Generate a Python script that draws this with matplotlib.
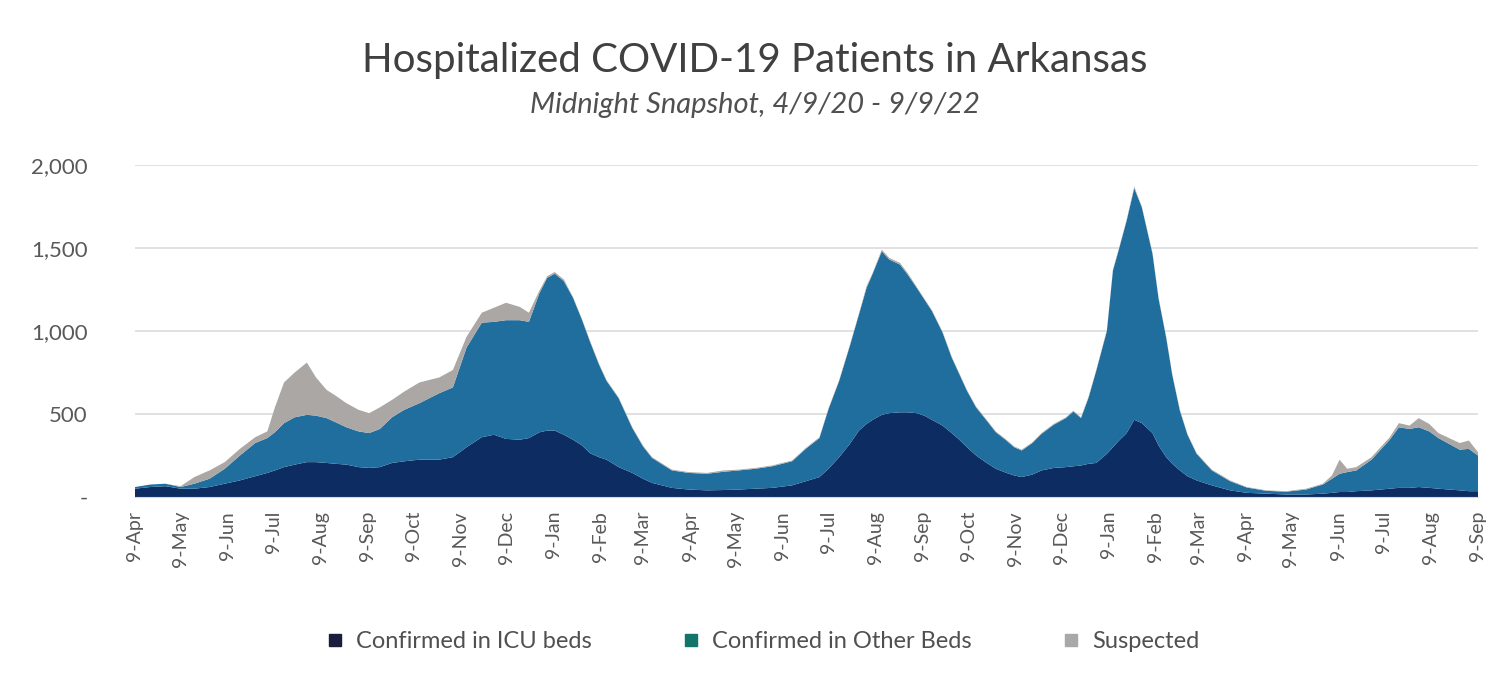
import matplotlib
matplotlib.use("Agg")
import matplotlib.pyplot as plt
from matplotlib.lines import Line2D
from matplotlib.ticker import FixedLocator, FuncFormatter
import pandas as pd

plt.rcParams['font.family'] = ['Lato', 'DejaVu Sans']

# ---------------- data ----------------
dates = [
    "2020-04-09", "2020-04-19", "2020-04-29", "2020-05-09", "2020-05-18", "2020-05-28",
    "2020-06-07", "2020-06-17", "2020-06-27", "2020-07-05", "2020-07-10", "2020-07-16",
    "2020-07-23", "2020-07-31", "2020-08-06", "2020-08-13", "2020-08-19", "2020-08-26",
    "2020-09-03", "2020-09-10", "2020-09-17", "2020-09-25", "2020-10-03", "2020-10-13",
    "2020-10-26", "2020-11-04", "2020-11-13", "2020-11-23", "2020-12-01", "2020-12-09",
    "2020-12-18", "2020-12-24", "2020-12-31", "2021-01-05", "2021-01-10", "2021-01-16",
    "2021-01-22", "2021-01-28", "2021-02-02", "2021-02-08", "2021-02-13", "2021-02-21",
    "2021-03-02", "2021-03-09", "2021-03-15", "2021-03-28", "2021-04-08", "2021-04-20",
    "2021-05-01", "2021-05-11", "2021-05-22", "2021-06-02", "2021-06-15", "2021-06-24",
    "2021-07-03", "2021-07-09", "2021-07-16", "2021-07-23", "2021-07-29", "2021-08-03",
    "2021-08-07", "2021-08-13", "2021-08-18", "2021-08-25", "2021-08-30", "2021-09-05",
    "2021-09-10", "2021-09-15", "2021-09-22", "2021-09-28", "2021-10-03", "2021-10-08",
    "2021-10-14", "2021-10-21", "2021-10-27", "2021-11-03", "2021-11-08", "2021-11-13",
    "2021-11-20", "2021-11-26", "2021-12-04", "2021-12-12", "2021-12-17", "2021-12-22",
    "2021-12-27", "2022-01-01", "2022-01-08", "2022-01-12", "2022-01-16", "2022-01-21",
    "2022-01-26", "2022-01-31", "2022-02-07", "2022-02-11", "2022-02-16", "2022-02-20",
    "2022-02-25", "2022-03-02", "2022-03-08", "2022-03-18", "2022-03-30", "2022-04-10",
    "2022-04-23", "2022-05-06", "2022-05-19", "2022-05-30", "2022-06-05", "2022-06-10",
    "2022-06-15", "2022-06-21", "2022-07-01", "2022-07-13", "2022-07-19", "2022-07-26",
    "2022-08-01", "2022-08-08", "2022-08-14", "2022-08-21", "2022-08-28", "2022-09-03",
    "2022-09-09",
]

icu = [
    50, 60, 65, 50, 50, 60,
    80, 100, 125, 145, 160, 180,
    195, 210, 210, 205, 200, 195,
    180, 175, 180, 205, 215, 225,
    225, 240, 300, 360, 375, 350,
    345, 355, 390, 400, 400, 375,
    345, 310, 265, 240, 225, 180,
    145, 110, 85, 55, 45, 40,
    42, 45, 50, 55, 70, 95,
    120, 170, 240, 320, 400, 440,
    465, 495, 505, 510, 510, 505,
    490, 465, 430, 385, 345, 300,
    250, 205, 170, 145, 130, 120,
    135, 160, 175, 180, 185, 190,
    200, 205, 260, 300, 340, 385,
    465, 445, 385, 310, 240, 200,
    160, 125, 100, 70, 40, 25,
    20, 15, 15, 20, 25, 30,
    30, 35, 40, 50, 55, 55,
    60, 55, 50, 45, 40, 35,
    35,
]

other = [
    10, 15, 15, 10, 30, 50,
    90, 150, 200, 210, 230, 265,
    285, 285, 280, 270, 250, 225,
    215, 210, 230, 275, 310, 340,
    400, 420, 600, 690, 680, 715,
    720, 700, 840, 920, 945, 925,
    855, 755, 675, 560, 475, 415,
    270, 195, 150, 105, 100, 100,
    110, 115, 120, 130, 145, 195,
    235, 360, 460, 590, 700, 820,
    880, 985, 925, 890, 830, 755,
    700, 655, 560, 455, 395, 340,
    290, 255, 220, 195, 170, 160,
    190, 220, 260, 295, 330, 285,
    400, 555, 740, 1065, 1155, 1280,
    1395, 1300, 1080, 885, 720, 535,
    360, 250, 160, 90, 55, 32,
    17, 17, 30, 55, 85, 110,
    120, 125, 185, 295, 365, 355,
    360, 340, 305, 275, 245, 255,
    215,
]

suspected = [
    0, 0, 0, 5, 40, 50,
    40, 40, 35, 40, 150, 245,
    270, 315, 230, 170, 160, 145,
    130, 120, 130, 105, 110, 125,
    95, 105, 65, 60, 85, 105,
    80, 55, 15, 10, 10, 10,
    5, 5, 5, 5, 5, 5,
    5, 5, 5, 5, 5, 5,
    8, 5, 5, 5, 5, 5,
    5, 5, 5, 5, 5, 10,
    5, 10, 10, 10, 10, 5,
    5, 5, 5, 5, 5, 5,
    5, 5, 5, 5, 5, 5,
    5, 5, 5, 5, 5, 5,
    5, 5, 5, 5, 5, 5,
    10, 5, 5, 5, 5, 5,
    5, 5, 5, 5, 5, 3,
    3, 3, 5, 5, 20, 85,
    20, 20, 15, 15, 25, 20,
    55, 45, 30, 35, 40, 50,
    20,
]

series_names = ["Confirmed in ICU beds", "Confirmed in Other Beds", "Suspected"]
area_colors = ["#0c2c62", "#1f6e9e", "#aaa7a4"]
legend_colors = ["#1b1d3d", "#13756a", "#a8a8a8"]

tick_dates = pd.date_range("2020-04-01", "2022-09-01", freq="MS") + pd.Timedelta(days=8)
x = pd.to_datetime(dates)

# ---------------- figure ----------------
fig = plt.figure(figsize=(15.10, 6.84), dpi=100)
ax = fig.add_axes([0.0894, 0.2734, 0.8894, 0.4854])

ax.stackplot(x, icu, other, suspected, colors=area_colors, linewidth=0)

ax.set_xlim(pd.Timestamp("2020-04-09"), pd.Timestamp("2022-09-09"))
ax.set_ylim(0, 2000)
ax.yaxis.set_major_locator(FixedLocator([0, 500, 1000, 1500, 2000]))
ax.yaxis.set_major_formatter(FuncFormatter(lambda v, p: "-" if v == 0 else f"{int(v):,}"))
ax.grid(axis="y", color="#dcdcdc", linewidth=1.2)
ax.set_axisbelow(True)

ax.set_xticks(tick_dates)
ax.set_xticklabels([f"9-{d.strftime('%b')}" for d in tick_dates], rotation=90,
                   fontsize=14, color="#595959")
ax.tick_params(axis="x", length=0, pad=10)
ax.tick_params(axis="y", length=0, pad=34, labelsize=16, labelcolor="#595959")

for s in ["top", "right", "left"]:
    ax.spines[s].set_visible(False)
ax.spines["bottom"].set_color("#d9d9d9")

fig.text(0.5, 0.912, "Hospitalized COVID-19 Patients in Arkansas", ha="center", va="center",
         fontsize=29, color="#404040")
fig.text(0.5, 0.846, "Midnight Snapshot, 4/9/20 - 9/9/22", ha="center", va="center",
         fontsize=21, color="#505050", style="italic")

handles = [Line2D([0], [0], marker="s", linestyle="none", markersize=9,
                  markerfacecolor=c, markeredgecolor=c) for c in legend_colors]
fig.legend(handles, series_names, loc="center", bbox_to_anchor=(0.505, 0.062), ncol=3,
           frameon=False, fontsize=17, labelcolor="#505050", handletextpad=0.5,
           columnspacing=3.8, handlelength=0.8)

fig.savefig("out.png", dpi=100, facecolor="white")
